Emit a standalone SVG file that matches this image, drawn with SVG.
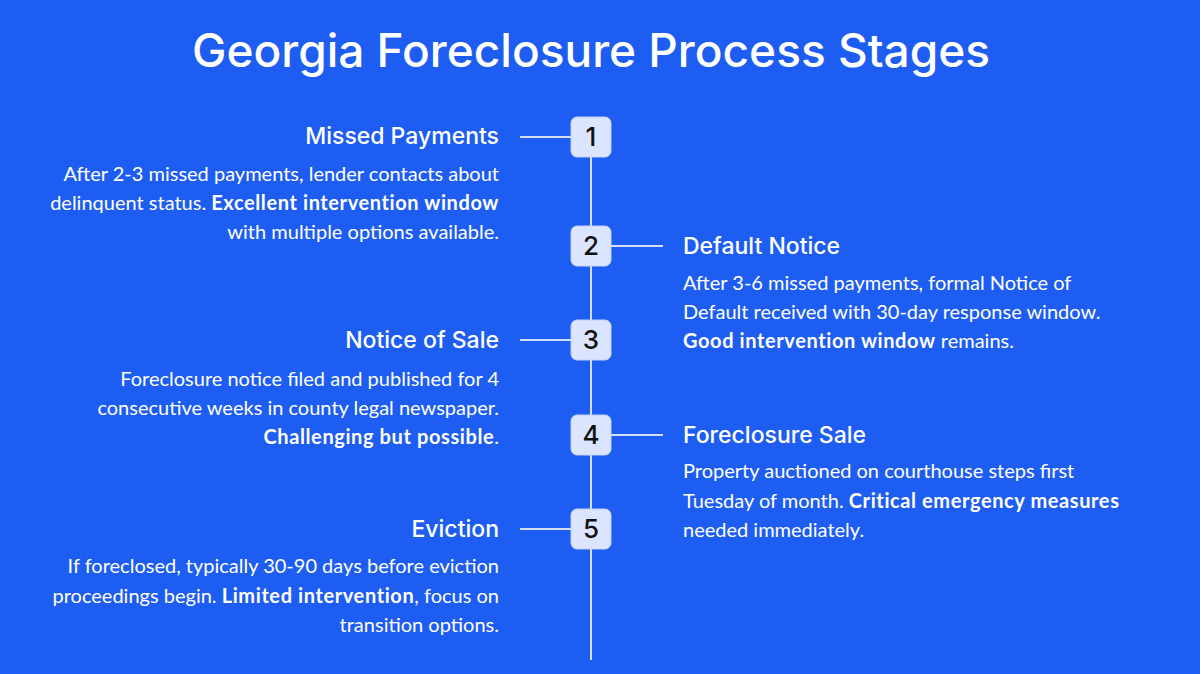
<svg xmlns="http://www.w3.org/2000/svg" width="1200" height="674" viewBox="0 0 1200 674">
<style>
.title{font-family:Inter,"Open Sans",sans-serif;font-size:46px;fill:#fff;font-weight:500}
.h{font-family:Inter,"Open Sans",sans-serif;font-size:23px;fill:#fff;font-weight:500}
.b{font-family:Lato,"Open Sans",sans-serif;font-size:20px;fill:#fff}
.b tspan.s{font-weight:bold;letter-spacing:0.6px}
.l{text-anchor:end}
.box{fill:#DCE5FF;stroke:#C4D2FA;stroke-width:1}
.num{font-family:Inter,"Open Sans",sans-serif;font-size:26px;fill:#111;font-weight:500;text-anchor:middle}
.c{stroke:#D3DEFC;stroke-width:2;fill:none}
</style>
<rect width="1200" height="674" fill="#1E5DF1"/>
<text class="title" x="591" y="67" text-anchor="middle">Georgia Foreclosure Process Stages</text>
<g id="connectors">
<line class="c" x1="591" y1="155" x2="591" y2="660"/>
<line class="c" x1="520" y1="137" x2="571" y2="137"/>
<line class="c" x1="611" y1="246" x2="663" y2="246"/>
<line class="c" x1="520" y1="340" x2="571" y2="340"/>
<line class="c" x1="611" y1="435" x2="663" y2="435"/>
<line class="c" x1="520" y1="529" x2="571" y2="529"/>
</g>
<g id="node1">
<rect class="box" x="571" y="117" width="40" height="40" rx="6"/>
<text class="num" x="591" y="146">1</text>
<text class="h l" x="499" y="144">Missed Payments</text>
<text class="b l" x="499" y="181">After 2-3 missed payments, lender contacts about</text>
<text class="b l" x="499" y="210">delinquent status. <tspan class="s">Excellent intervention window</tspan></text>
<text class="b l" x="499" y="239">with multiple options available.</text>
</g>
<g id="node2">
<rect class="box" x="571" y="226" width="40" height="40" rx="6"/>
<text class="num" x="591" y="255">2</text>
<text class="h" x="683" y="254">Default Notice</text>
<text class="b" x="683" y="290">After 3-6 missed payments, formal Notice of</text>
<text class="b" x="683" y="319">Default received with 30-day response window.</text>
<text class="b" x="683" y="348"><tspan class="s">Good intervention window</tspan> remains.</text>
</g>
<g id="node3">
<rect class="box" x="571" y="320" width="40" height="40" rx="6"/>
<text class="num" x="591" y="349">3</text>
<text class="h l" x="499" y="348">Notice of Sale</text>
<text class="b l" x="499" y="386">Foreclosure notice filed and published for 4</text>
<text class="b l" x="499" y="415">consecutive weeks in county legal newspaper.</text>
<text class="b l" x="499" y="444"><tspan class="s">Challenging but possible</tspan>.</text>
</g>
<g id="node4">
<rect class="box" x="571" y="415" width="40" height="40" rx="6"/>
<text class="num" x="591" y="444">4</text>
<text class="h" x="683" y="443">Foreclosure Sale</text>
<text class="b" x="683" y="478">Property auctioned on courthouse steps first</text>
<text class="b" x="683" y="508">Tuesday of month. <tspan class="s">Critical emergency measures</tspan></text>
<text class="b" x="683" y="537">needed immediately.</text>
</g>
<g id="node5">
<rect class="box" x="571" y="509" width="40" height="40" rx="6"/>
<text class="num" x="591" y="538">5</text>
<text class="h l" x="499" y="537">Eviction</text>
<text class="b l" x="499" y="573">If foreclosed, typically 30-90 days before eviction</text>
<text class="b l" x="499" y="603">proceedings begin. <tspan class="s">Limited intervention</tspan>, focus on</text>
<text class="b l" x="499" y="632">transition options.</text>
</g>
</svg>
